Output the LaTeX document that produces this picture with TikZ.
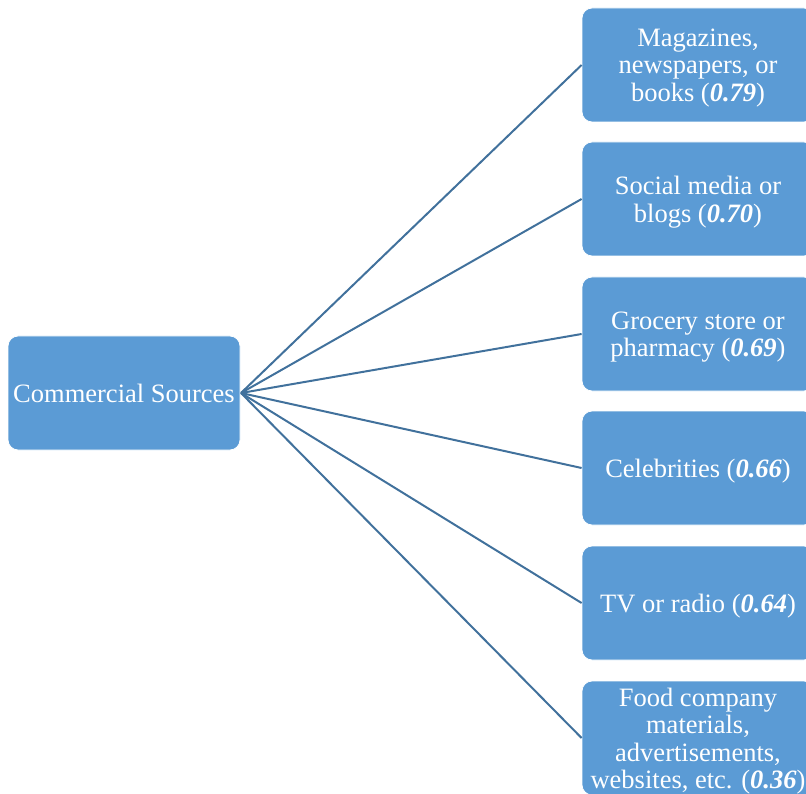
\documentclass[tikz,border=0pt]{standalone}
\usepackage{fontspec}
\setmainfont{Liberation Serif}
\definecolor{boxblue}{HTML}{5B9BD5}
\definecolor{linkblue}{HTML}{41719C}
\newcommand{\score}[1]{(\textbf{\textit{#1}})}
\begin{document}
\begin{tikzpicture}[x=1pt,y=-1pt,
  srcbox/.style={draw=white, line width=0.8pt, fill=boxblue, rounded corners=10pt,
    minimum width=232pt, minimum height=114pt, inner sep=0pt},
  srctext/.style={text=white, align=center, inner sep=0pt,
    font=\fontsize{26.5}{27.5}\selectfont},
  link/.style={draw=linkblue, line width=2pt}]
  \useasboundingbox (0,0) rectangle (806,794);
  \clip (0,0) rectangle (806,794);
  % central box
  \node[srcbox] (c) at (124,393) {};
  \node[srctext] (ct) at (124,393) {Commercial Sources};
  \coordinate (hub) at (241,393);
  % right-hand boxes, each with its link from the hub
  \foreach \n/\y/\t in {
    1/65/{Magazines,\\newspapers, or\\books \score{0.79}},
    2/199/{Social media or\\blogs \score{0.70}},
    3/334/{Grocery store or\\pharmacy \score{0.69}},
    4/468/{Celebrities \score{0.66}},
    5/603/{TV or radio \score{0.64}},
    6/738/{Food company\\materials,\\advertisements,\\websites, etc. \score{0.36}}}{
    \node[srcbox] (b\n) at (698,\y) {};
    \node[srctext] (t\n) at (698,\y+3) {\t};
    \draw[link] (hub) -- (b\n.west);
  }
\end{tikzpicture}
\end{document}
